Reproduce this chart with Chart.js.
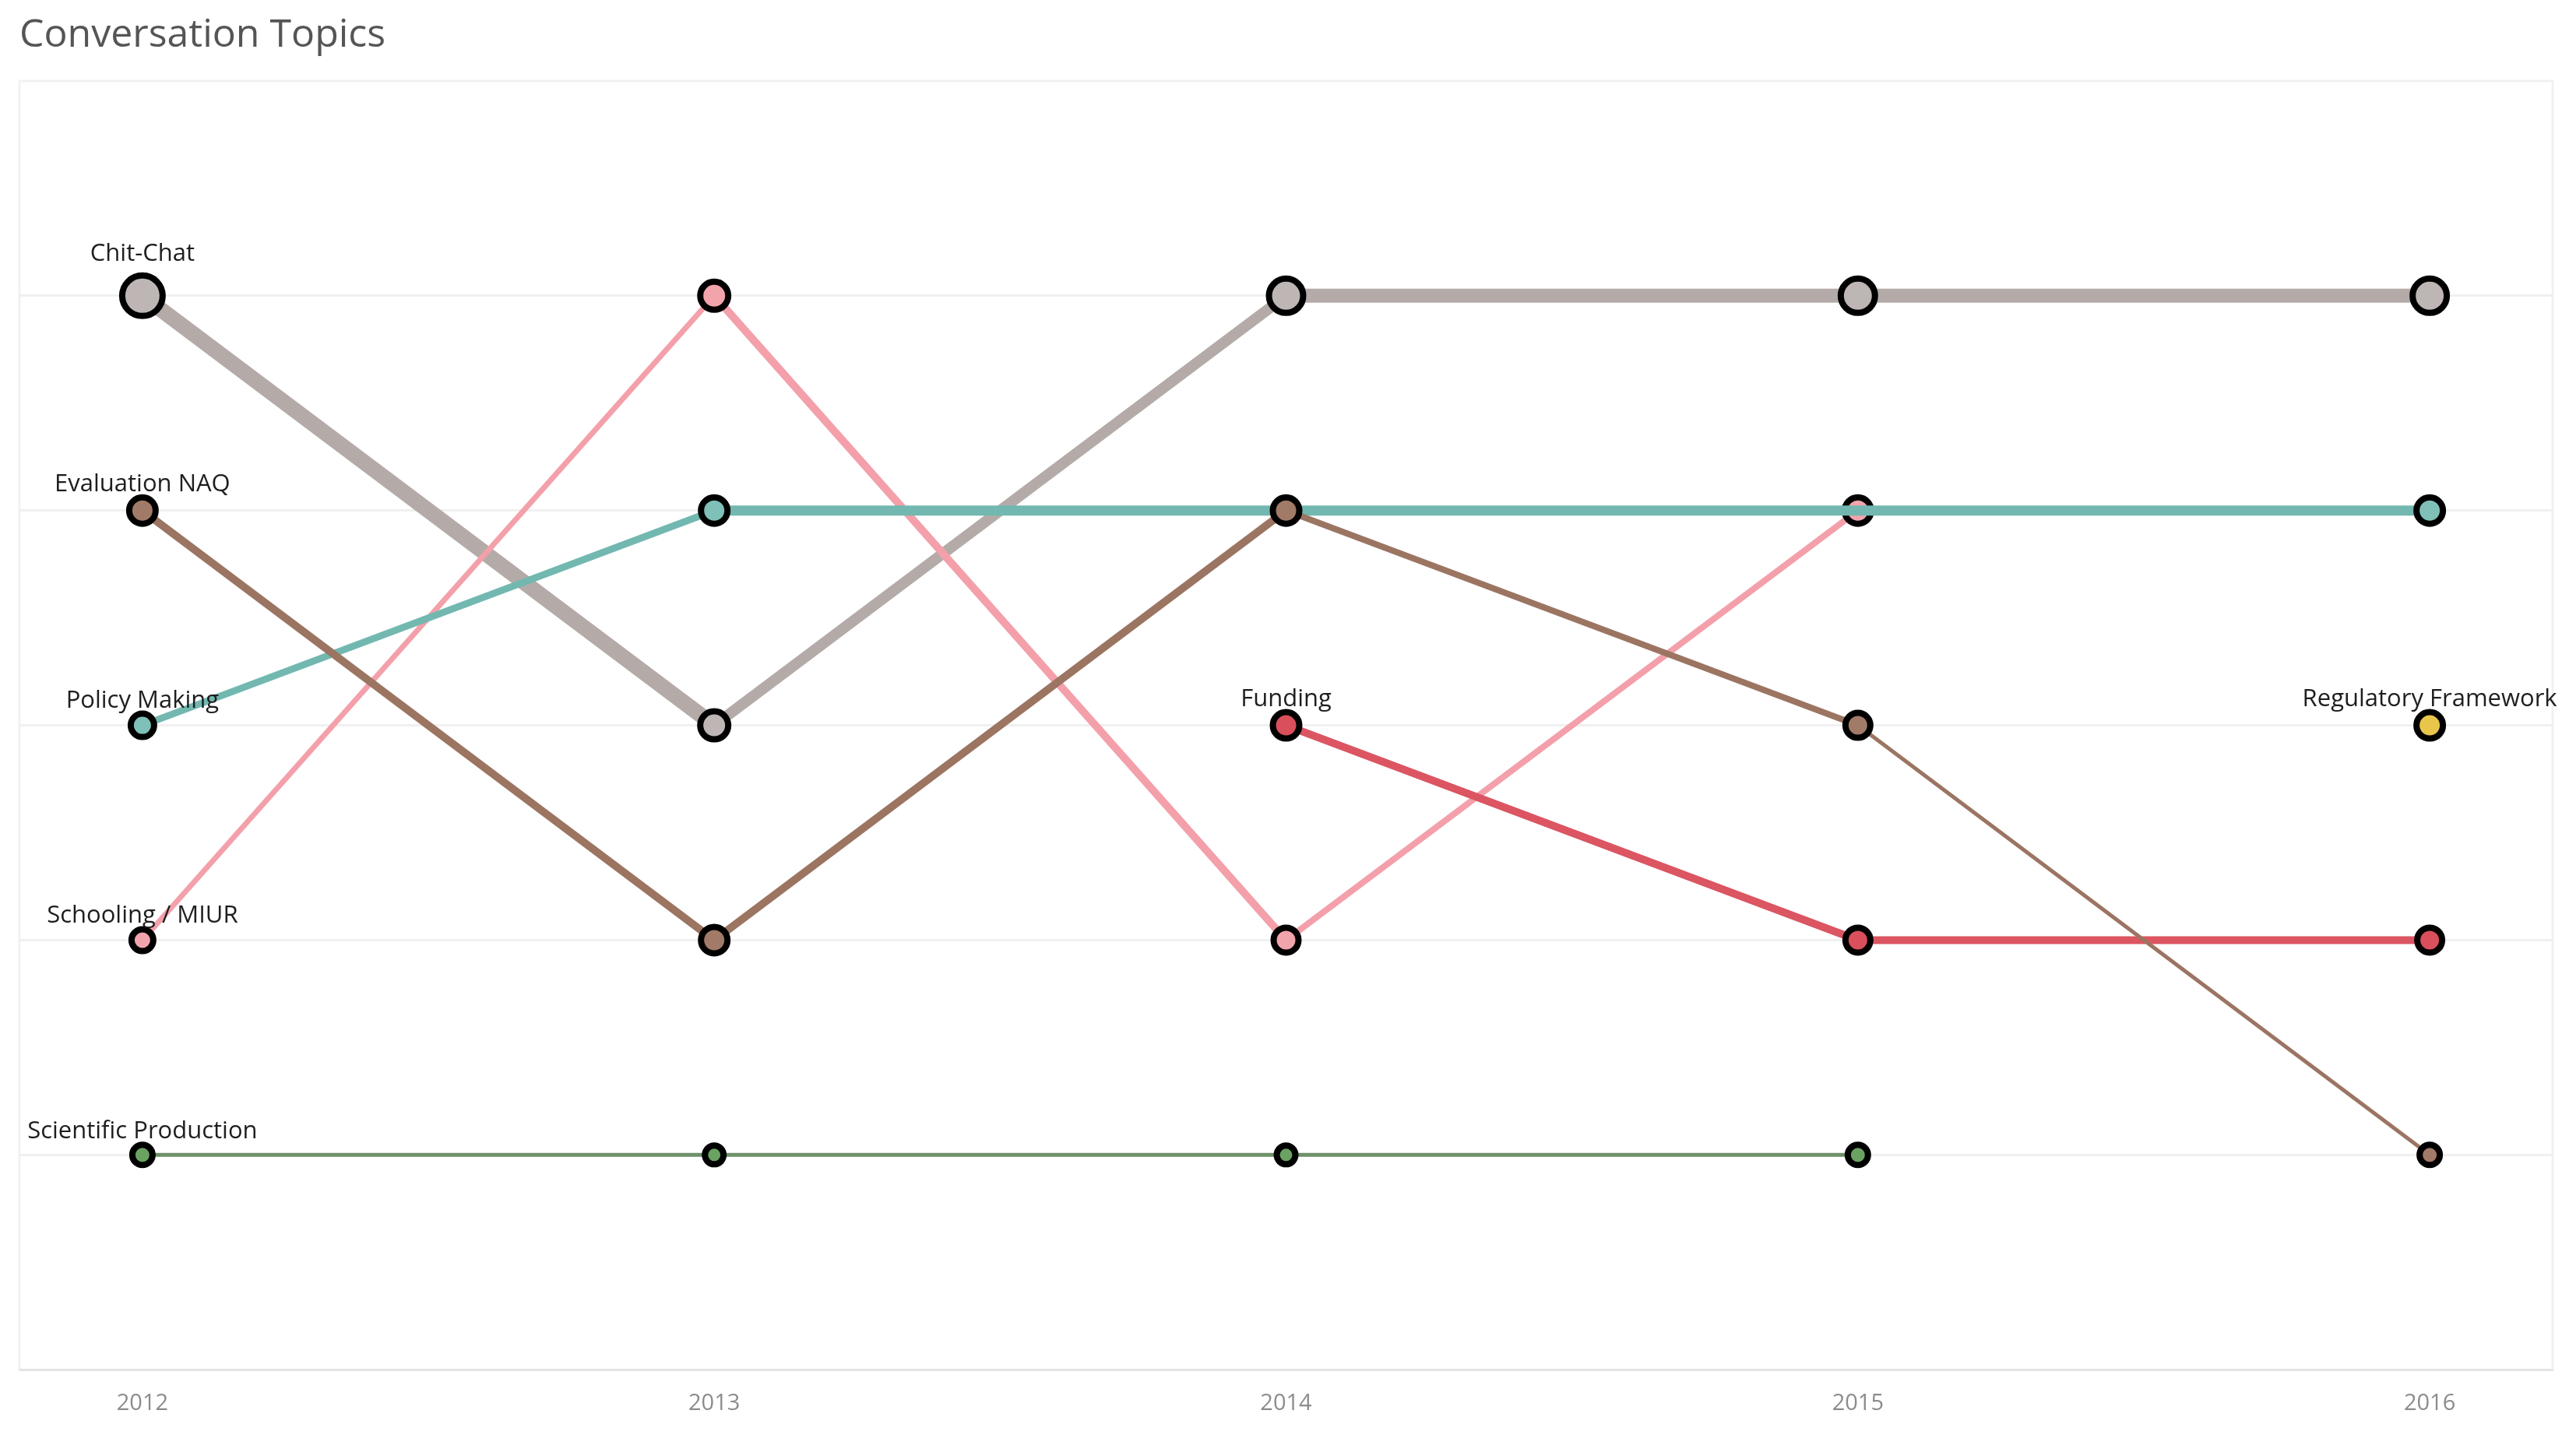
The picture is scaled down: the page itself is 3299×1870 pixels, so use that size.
<!DOCTYPE html>
<html>
<head>
<meta charset="utf-8">
<title>Conversation Topics</title>
<script src="https://cdn.jsdelivr.net/npm/chart.js@4/dist/chart.umd.min.js"></script>
<style>
    html, body { margin: 0; padding: 0; background: #fff; }
    #wrap { width: 3299px; height: 1870px; }
</style>
</head>
<body>
<div id="wrap"><canvas id="chartTopics"></canvas></div>
<script>
'use strict';

// rank of each topic per year (1 = top)
const years = [2012, 2013, 2014, 2015, 2016];
const chitChat = [1, 3, 1, 1, 1];
const evaluationNAQ = [2, 4, 2, 3, 5];
const policyMaking = [3, 2, 2, 2, 2];
const schoolingMIUR = [4, 1, 4, 2, null];
const funding = [null, null, 3, 4, 4];
const scientificProduction = [5, 5, 5, 5, null];
const regulatoryFramework = [null, null, null, null, 3];

// styles: outer point radius and segment widths per topic
const TOPICS = [
    { label: 'Chit-Chat', ranks: chitChat, color: '#b4aba8', fill: '#bdb6b4',
      radius: [30, 22, 26, 26, 26], widths: [20, 14, 18, 18], order: 7 },
    { label: 'Schooling / MIUR', ranks: schoolingMIUR, color: '#f3a0ab', fill: '#f2a4ac',
      radius: [18, 22, 20, 21, 0], widths: [7, 10, 8, 0], order: 6 },
    { label: 'Policy Making', ranks: policyMaking, color: '#72b8b0', fill: '#7fc0b8',
      radius: [19, 21, 0, 0, 21], widths: [9, 13, 13, 13], order: 5 },
    { label: 'Funding', ranks: funding, color: '#db5562', fill: '#d94f5b',
      radius: [0, 0, 21, 20, 20], widths: [0, 0, 10, 10], order: 4 },
    { label: 'Evaluation NAQ', ranks: evaluationNAQ, color: '#9b7562', fill: '#a27a68',
      radius: [21, 21, 21, 20, 17], widths: [10, 10, 8, 5], order: 3 },
    { label: 'Scientific Production', ranks: scientificProduction, color: '#6d9068', fill: '#6aa262',
      radius: [17, 16, 16, 17, 0], widths: [5, 5, 5, 5], order: 2 },
    { label: 'Regulatory Framework', ranks: regulatoryFramework, color: '#e8c64a', fill: '#e8c64a',
      radius: [0, 0, 0, 0, 21], widths: [0, 0, 0, 0], order: 1 }
];

const BORDER = 8;

function buildDatasets() {
    let datasets = [];
    for (let i = 0; i < TOPICS.length; i++) {
        let t = TOPICS[i];
        let data = [];
        for (let j = 0; j < years.length; j++) {
            data.push({ x: years[j], y: t.ranks[j] });
        }
        datasets.push({
            label: t.label,
            data: data,
            order: t.order,
            borderColor: t.color,
            backgroundColor: t.fill,
            borderWidth: t.widths[0] || 4,
            borderCapStyle: 'butt',
            pointBackgroundColor: t.fill,
            pointBorderColor: '#000',
            pointBorderWidth: t.radius.map(r => r > 0 ? BORDER : 0),
            pointRadius: t.radius.map(r => r > 0 ? r - BORDER / 2 : 0),
            pointHoverRadius: t.radius.map(r => r > 0 ? r - BORDER / 2 : 0),
            tension: 0,
            spanGaps: false,
            segment: {
                borderWidth: ctx => t.widths[ctx.p0DataIndex]
            }
        });
    }
    return datasets;
}

// light frame round the plot area
const frame = {
    id: 'frame',
    beforeDraw(chart) {
        const { ctx, chartArea: a } = chart;
        ctx.save();
        ctx.strokeStyle = '#f1f1f1';
        ctx.lineWidth = 3;
        ctx.strokeRect(a.left, a.top, a.right - a.left, a.bottom - a.top);
        ctx.restore();
    }
};

// topic name above its first point
const topicLabels = {
    id: 'topicLabels',
    afterDatasetsDraw(chart) {
        const ctx = chart.ctx;
        ctx.save();
        ctx.font = '31px "Open Sans", sans-serif';
        ctx.fillStyle = '#1e1e1e';
        ctx.textAlign = 'center';
        ctx.textBaseline = 'alphabetic';
        for (let i = 0; i < TOPICS.length; i++) {
            let t = TOPICS[i];
            let first = t.ranks.findIndex(v => v !== null);
            let pt = chart.getDatasetMeta(i).data[first];
            let r = t.radius[first];
            // bigger dots push their label a bit further up
            let gap = 4 + Math.max(0, r - 22) * 1.4;
            ctx.fillText(t.label, pt.x, pt.y - r - gap);
        }
        ctx.restore();
    }
};

new Chart(document.getElementById('chartTopics'), {
    type: 'line',
    data: { datasets: buildDatasets() },
    plugins: [frame, topicLabels],
    options: {
        responsive: true,
        maintainAspectRatio: false,
        animation: false,
        layout: { autoPadding: false, padding: { left: 25, right: 21, top: 0, bottom: 24 } },
        plugins: {
            legend: { display: false },
            tooltip: { enabled: false },
            title: {
                display: true,
                text: 'Conversation Topics',
                align: 'start',
                color: '#555',
                font: { family: '"Open Sans", sans-serif', size: 50, weight: 'normal' },
                padding: { top: 16, bottom: 28 }
            }
        },
        scales: {
            x: {
                type: 'linear',
                min: 2011.785,
                max: 2016.215,
                afterBuildTicks: axis => { axis.ticks = years.map(v => ({ value: v })); },
                grid: { display: false, drawTicks: false },
                border: { display: true, color: '#e4e4e4', width: 3, dash: [3, 7] },
                ticks: {
                    color: '#8c8c8c',
                    padding: 26,
                    font: { family: '"Open Sans", sans-serif', size: 29 },
                    callback: v => String(v)
                }
            },
            y: {
                type: 'linear',
                reverse: true,
                min: 0,
                max: 6,
                afterBuildTicks: axis => { axis.ticks = [1, 2, 3, 4, 5].map(v => ({ value: v })); },
                afterFit: axis => { axis.width = 0; },
                grid: { color: '#f0f0f0', lineWidth: 3, drawTicks: false },
                border: { display: false },
                ticks: { display: false }
            }
        }
    }
});
</script>
</body>
</html>
